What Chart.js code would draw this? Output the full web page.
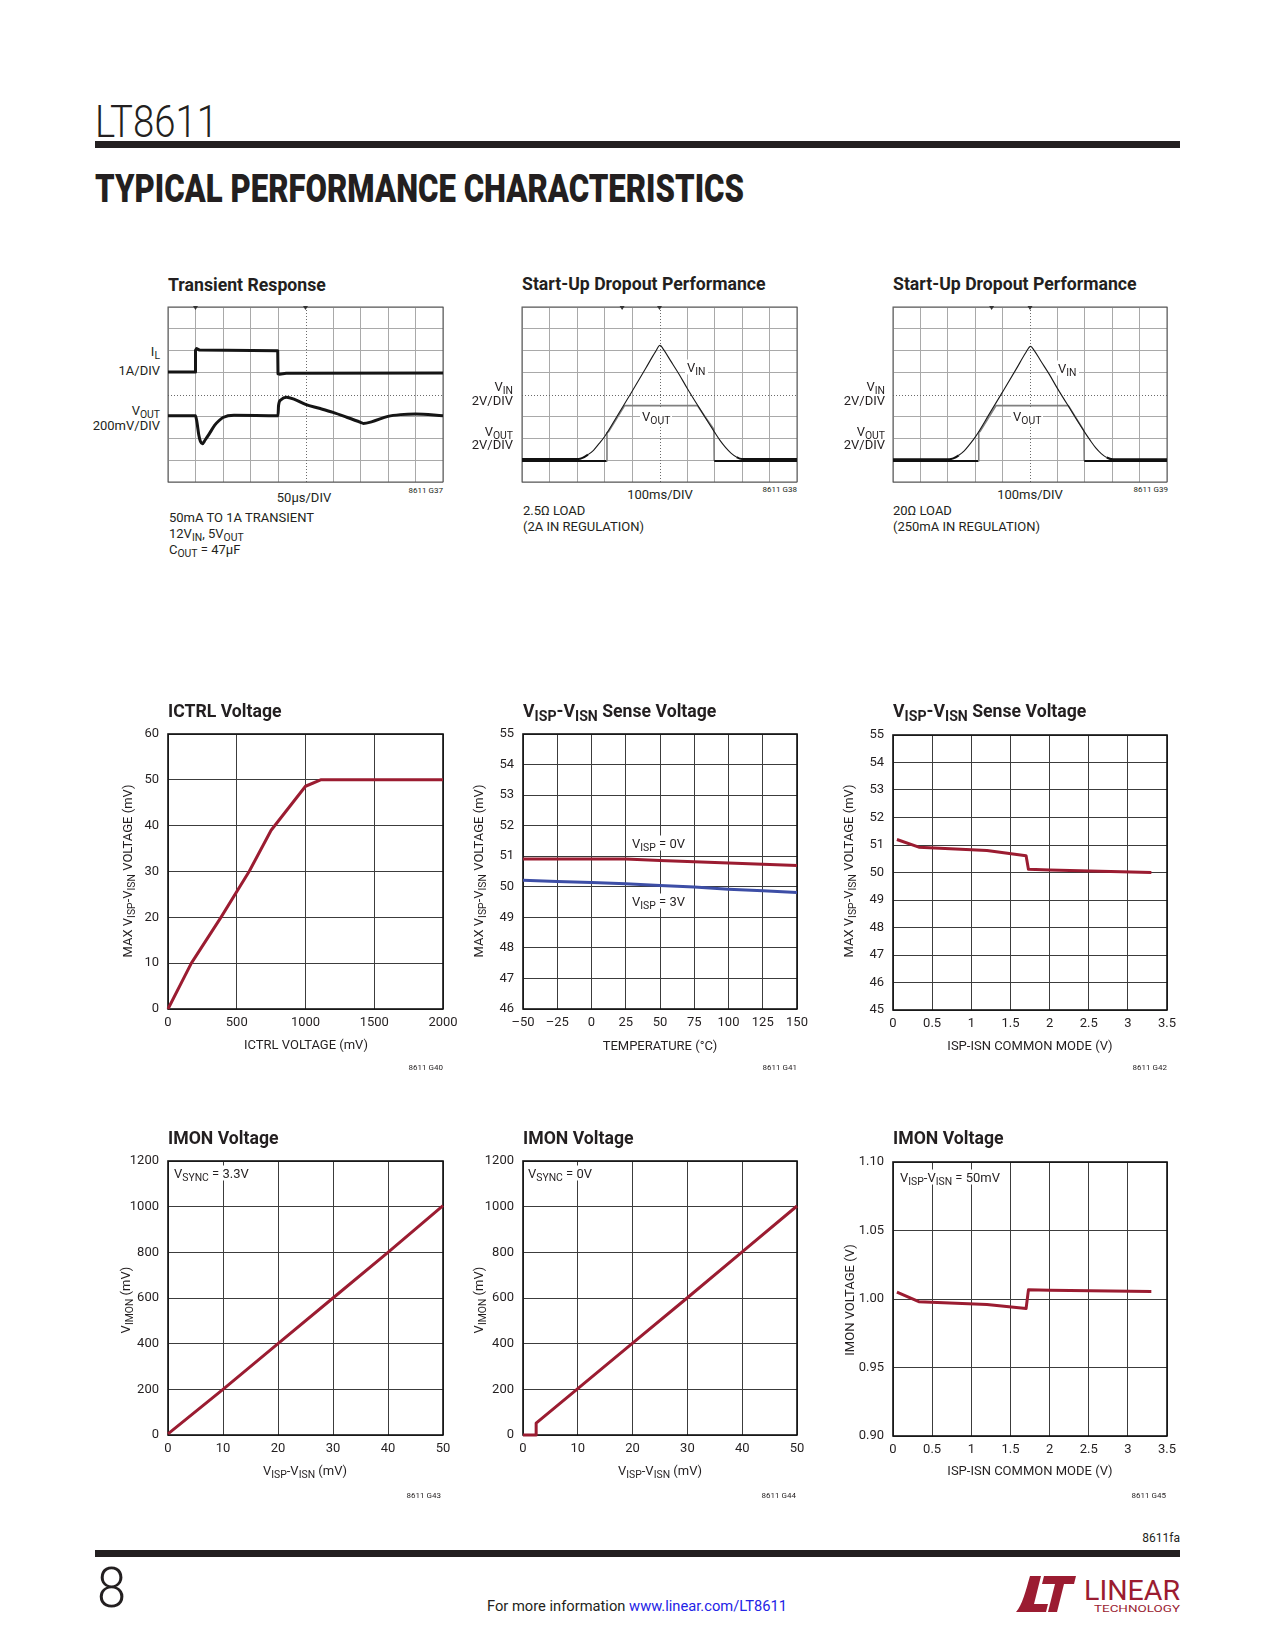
<!DOCTYPE html>
<html><head><meta charset="utf-8">
<script src="https://cdn.jsdelivr.net/npm/chart.js@4.4.1/dist/chart.umd.min.js"></script>
<style>
html,body{margin:0;padding:0;background:#fff;}
#page{position:relative;width:1275px;height:1650px;overflow:hidden;font-family:Roboto,'Liberation Sans',sans-serif;color:#231f20;}
.t{position:absolute;white-space:nowrap;line-height:1;}
canvas{position:absolute;}
sub{font-size:80%;vertical-align:-0.3em;line-height:0;}
</style></head>
<body>
<div id="page">
<svg width="1275" height="1650" style="position:absolute;left:0;top:0" font-family="Roboto" fill="#231f20">
 <text x="95" y="137" font-weight="300" font-size="45" textLength="123" lengthAdjust="spacingAndGlyphs">LT8611</text>
 <rect x="95" y="141" width="1085" height="7"/>
 <text x="95" y="202" font-weight="900" font-size="38" textLength="649" lengthAdjust="spacingAndGlyphs">TYPICAL PERFORMANCE CHARACTERISTICS</text>
 <text x="1180" y="1542" text-anchor="end" font-size="12">8611fa</text>
 <rect x="95" y="1550" width="1085" height="7"/>
 <text x="97" y="1607" font-weight="300" font-size="56" textLength="29" lengthAdjust="spacingAndGlyphs">8</text>
 <text x="637" y="1611" text-anchor="middle" font-size="15" textLength="300" lengthAdjust="spacingAndGlyphs">For more information <tspan fill="#2323e6">www.linear.com/LT8611</tspan></text>
 <g transform="translate(1016,1576)" fill="#9b1c31">
  <path d="M14 0 H25 L18 28 H32 L30 36 H0 C6 30 10 14 14 0 Z"/>
  <path d="M28 0 H60 L58 8 H48 L41 36 H32 L39 8 H26 Z"/>
 </g>
 <text x="1084" y="1600" font-size="27" font-weight="400" textLength="96" lengthAdjust="spacingAndGlyphs" fill="#9b1c31">LINEAR</text>
 <text x="1094" y="1612" font-size="9" textLength="86" lengthAdjust="spacingAndGlyphs" fill="#9b1c31">TECHNOLOGY</text>
</svg>
</div>
<script>
// ================= DATA =================
// Transient Response (scope divisions: 10 across, 8 up)
const trIlT = [0, 0.99, 1.0, 1.04, 1.15, 3.99, 4.0, 4.05, 4.3, 10];
const trIlV = [5.03, 5.03, 6.02, 6.1, 6.03, 6.0, 4.95, 4.93, 4.97, 4.98];
const trVoT = [0, 1.0, 1.05, 1.12, 1.18, 1.25, 1.35, 1.5, 1.7, 1.85, 2.0, 2.4, 4.0, 4.02, 4.1, 4.31, 4.6, 5.0, 5.5, 6.0, 6.5, 7.0, 7.1, 7.4, 8.0, 8.45, 9.0, 10];
const trVoV = [3.03, 3.03, 2.75, 2.15, 1.85, 1.75, 1.92, 2.2, 2.6, 2.8, 2.95, 3.05, 3.03, 3.5, 3.75, 3.88, 3.78, 3.55, 3.37, 3.18, 2.96, 2.73, 2.68, 2.75, 3.0, 3.08, 3.11, 3.03];
// Start-Up Dropout, 2.5 ohm load
const su1VinT = [0, 2.05, 2.2, 2.4, 2.6, 2.8, 3.0, 3.5, 4.0, 4.5, 4.85, 5.02, 5.15, 5.4, 5.7, 6.0, 6.5, 7.0, 7.2, 7.4, 7.6, 7.8, 8.0, 10];
const su1VinV = [1.05, 1.05, 1.1, 1.25, 1.45, 1.75, 2.07, 3.1, 4.14, 5.2, 5.95, 6.25, 6.05, 5.55, 4.95, 4.3, 3.28, 2.28, 1.9, 1.58, 1.32, 1.14, 1.05, 1.05];
const su1VoT = [0, 3.08, 3.09, 3.15, 3.73, 6.38, 6.7, 6.98, 6.99, 10];
const su1VoV = [0.96, 0.96, 2.25, 2.3, 3.49, 3.49, 2.9, 2.4, 0.96, 0.96];
// Start-Up Dropout, 20 ohm load
const su2VinT = [0, 2.05, 2.2, 2.4, 2.6, 2.8, 3.0, 3.5, 4.0, 4.5, 4.85, 5.02, 5.15, 5.4, 5.7, 6.0, 6.5, 7.0, 7.2, 7.4, 7.6, 7.8, 8.03, 10];
const su2VinV = [1.04, 1.04, 1.08, 1.22, 1.42, 1.72, 2.05, 3.08, 4.12, 5.17, 5.92, 6.2, 6.02, 5.52, 4.93, 4.28, 3.27, 2.27, 1.9, 1.56, 1.3, 1.12, 1.04, 1.04];
const su2VoT = [0, 3.12, 3.13, 3.18, 3.76, 6.4, 6.7, 6.97, 6.98, 10];
const su2VoV = [0.96, 0.96, 2.27, 2.32, 3.49, 3.49, 2.88, 2.35, 0.96, 0.96];
// ICTRL Voltage
const ictrlMv = [0, 170, 385, 590, 750, 1000, 1110, 2000];
const ictrlSense = [0, 10, 20, 30, 39, 48.6, 50, 50];
// Sense voltage vs temperature
const tempC = [-50, -25, 0, 25, 50, 75, 100, 125, 150];
const senseVisp0 = [50.91, 50.91, 50.91, 50.91, 50.86, 50.82, 50.78, 50.74, 50.70];
const senseVisp3 = [50.21, 50.17, 50.14, 50.10, 50.04, 49.99, 49.92, 49.87, 49.81];
// Sense voltage vs common mode
const cmSenseV = [0.05, 0.33, 1.2, 1.7, 1.73, 2.0, 3.3];
const senseCm = [51.2, 50.92, 50.8, 50.61, 50.12, 50.09, 50.0];
// IMON vs sense voltage
const imonSense1 = [0, 10, 20, 30, 40, 50];
const imonSync33 = [5, 200, 400, 600, 800, 1005];
const imonSense2 = [0, 2.4, 2.4, 10, 20, 30, 40, 50];
const imonSync0 = [0, 0, 52, 203, 402, 601, 802, 1003];
// IMON vs common mode
const cmImonV = [0.05, 0.33, 1.2, 1.7, 1.73, 2.0, 3.3];
const imonCm = [1.005, 0.998, 0.996, 0.993, 1.0067, 1.0064, 1.0055];

// ================= RENDER =================
const RED = '#9b1c31', BLUE = '#3d4ea6', INK = '#231f20';
Chart.defaults.font.family = 'Roboto';
const page = document.getElementById('page');

function lab(html, x, y, o = {}) {
  const d = document.createElement('div');
  d.className = 't';
  d.innerHTML = html;
  d.style.left = x + 'px';
  d.style.top = y + 'px';
  d.style.fontSize = (o.size || 13) + 'px';
  if (o.bold) d.style.fontWeight = '700';
  if (o.bg) { d.style.background = '#fff'; d.style.padding = '1px 2px'; }
  const a = o.align || 'l';
  const tx = a === 'r' ? '-100%' : a === 'c' ? '-50%' : '0';
  let tr = `translate(${tx},-50%)`;
  if (o.sx) {
    tr += ` scaleX(${o.sx})`;
    d.style.transformOrigin = a === 'r' ? '100% 50%' : a === 'c' ? '50% 50%' : '0 50%';
  }
  if (o.rot) tr = 'translate(-50%,-50%) rotate(-90deg)';
  d.style.transform = tr;
  page.appendChild(d);
}

function mkCanvas(area, L, T, R, B) {
  const c = document.createElement('canvas');
  c.width = area.w + L + R; c.height = area.h + T + B;
  c.style.left = (area.x - L) + 'px'; c.style.top = (area.y - T) + 'px';
  c.style.width = c.width + 'px'; c.style.height = c.height + 'px';
  page.appendChild(c);
  return c;
}

function pts(xs, ys) { return xs.map((x, i) => ({x, y: ys[i]})); }
function lineDs(xs, ys, color, width, extra) {
  return Object.assign({data: pts(xs, ys), borderColor: color, borderWidth: width, pointRadius: 0,
    showLine: true, fill: false, tension: 0, clip: false, borderJoinStyle: 'round'}, extra || {});
}

const frame = {
  id: 'frame',
  beforeDatasetsDraw(chart, a, o) {
    const {left, top, right, bottom} = chart.chartArea;
    const ctx = chart.ctx;
    ctx.save();
    if (o.scope) {
      const xs = chart.scales.x, ys = chart.scales.y;
      const cx = Math.round(xs.getPixelForValue(5)) + 0.5, cy = Math.round(ys.getPixelForValue(4)) + 0.5;
      ctx.strokeStyle = '#6a6a6a'; ctx.lineWidth = 1; ctx.setLineDash([1, 2]);
      ctx.beginPath(); ctx.moveTo(cx, top); ctx.lineTo(cx, bottom); ctx.moveTo(left, cy); ctx.lineTo(right, cy); ctx.stroke();
      ctx.setLineDash([]);
    }
    ctx.strokeStyle = o.color || '#111'; ctx.lineWidth = o.width || 1.5;
    ctx.strokeRect(left, top, right - left, bottom - top);
    ctx.restore();
  },
  afterDraw(chart, a, o) {
    if (!o.marks) return;
    const ctx = chart.ctx, top = chart.chartArea.top;
    ctx.save(); ctx.fillStyle = '#333';
    for (const m of o.marks) {
      const px = chart.scales.x.getPixelForValue(m);
      ctx.beginPath(); ctx.moveTo(px - 2.5, top - 1); ctx.lineTo(px + 2.5, top - 1); ctx.lineTo(px, top + 3); ctx.closePath(); ctx.fill();
    }
    ctx.restore();
  }
};

function axis(s, which, size) {
  return {
    type: 'linear', min: s.min, max: s.max,
    ticks: {stepSize: s.step, color: INK, font: {family: 'Roboto', size: 13}, padding: which === 'x' ? 6 : 9,
      maxRotation: 0, autoSkip: false, includeBounds: true, callback: s.fmt || (v => v)},
    grid: {color: '#3c3c3c', lineWidth: 1, drawTicks: false},
    border: {display: false},
    afterFit: sc => { if (which === 'x') sc.height = size; else sc.width = size; }
  };
}

function xyChart(area, datasets, sx, sy) {
  const L = 70, T = 24, R = 30, B = 30;
  const cv = mkCanvas(area, L, T, R, B);
  return new Chart(cv, {
    type: 'scatter',
    data: {datasets},
    options: {
      responsive: false, animation: false, events: [],
      layout: {padding: {left: 0, top: T, right: R, bottom: 0}},
      plugins: {legend: {display: false}, tooltip: {enabled: false}, frame: {color: '#111', width: 1.6}},
      scales: {x: axis(sx, 'x', B), y: axis(sy, 'y', L)}
    },
    plugins: [frame]
  });
}

function scopeChart(area, datasets, marks) {
  const L = 3, T = 5, R = 4, B = 3;
  const cv = mkCanvas(area, L, T, R, B);
  const g = (center) => ({color: c => (c.tick && c.tick.value === center) ? 'rgba(0,0,0,0)' : '#a9a9a9', lineWidth: 1, drawTicks: false});
  return new Chart(cv, {
    type: 'scatter',
    data: {datasets},
    options: {
      responsive: false, animation: false, events: [],
      layout: {padding: {left: 0, top: T, right: R, bottom: 0}},
      plugins: {legend: {display: false}, tooltip: {enabled: false}, frame: {scope: true, color: '#555', width: 1, marks}},
      scales: {
        x: {type: 'linear', min: 0, max: 10, ticks: {display: false, stepSize: 1}, grid: g(5), border: {display: false}, afterFit: sc => { sc.height = B; }},
        y: {type: 'linear', min: 0, max: 8, ticks: {display: false, stepSize: 1}, grid: g(4), border: {display: false}, afterFit: sc => { sc.width = L; }}
      }
    },
    plugins: [frame]
  });
}

const baseSeg = (thin, thick) => ({
  borderColor: c => (c.p0.parsed.y < 1.3 && c.p1.parsed.y < 1.3) ? '#111' : undefined,
  borderWidth: c => (c.p0.parsed.y < 1.3 && c.p1.parsed.y < 1.3) ? thick : thin
});

// ---- Row 1: scope captures ----
scopeChart({x: 168, y: 307, w: 275, h: 175}, [
  lineDs(trIlT, trIlV, '#151515', 3),
  lineDs(trVoT, trVoV, '#151515', 3, {cubicInterpolationMode: 'monotone'})
], [1, 5]);
scopeChart({x: 522, y: 307, w: 275, h: 175}, [
  lineDs(su1VinT, su1VinV, '#1a1a1a', 1.1, {cubicInterpolationMode: 'monotone', segment: baseSeg(1.1, 2)}),
  lineDs(su1VoT, su1VoV, '#808080', 2, {segment: baseSeg(1.6, 2.2)})
], [3.64, 5]);
scopeChart({x: 893, y: 307, w: 274, h: 175}, [
  lineDs(su2VinT, su2VinV, '#1a1a1a', 1.1, {cubicInterpolationMode: 'monotone', segment: baseSeg(1.1, 2)}),
  lineDs(su2VoT, su2VoV, '#808080', 2, {segment: baseSeg(1.6, 2.2)})
], [3.6, 5]);

// ---- Row 2 ----
xyChart({x: 168, y: 734, w: 275, h: 275}, [lineDs(ictrlMv, ictrlSense, RED, 3)],
  {min: 0, max: 2000, step: 500}, {min: 0, max: 60, step: 10});
xyChart({x: 523, y: 734, w: 274, h: 275}, [
  lineDs(tempC, senseVisp0, RED, 3),
  lineDs(tempC, senseVisp3, BLUE, 3)],
  {min: -50, max: 150, step: 25, fmt: v => v < 0 ? '\u2013' + Math.abs(v) : v}, {min: 46, max: 55, step: 1});
xyChart({x: 893, y: 735, w: 274, h: 275}, [lineDs(cmSenseV, senseCm, RED, 3)],
  {min: 0, max: 3.5, step: 0.5}, {min: 45, max: 55, step: 1});

// ---- Row 3 ----
xyChart({x: 168, y: 1161, w: 275, h: 274}, [lineDs(imonSense1, imonSync33, RED, 3)],
  {min: 0, max: 50, step: 10}, {min: 0, max: 1200, step: 200});
xyChart({x: 523, y: 1161, w: 274, h: 274}, [lineDs(imonSense2, imonSync0, RED, 3)],
  {min: 0, max: 50, step: 10}, {min: 0, max: 1200, step: 200});
xyChart({x: 893, y: 1162, w: 274, h: 274}, [lineDs(cmImonV, imonCm, RED, 3)],
  {min: 0, max: 3.5, step: 0.5}, {min: 0.9, max: 1.1, step: 0.05, fmt: v => v.toFixed(2)});

// ---- Text ----
const TS = {size: 19, bold: true, sx: 0.93};
lab('Transient Response', 168, 284, TS);
lab('Start-Up Dropout Performance', 522, 283, TS);
lab('Start-Up Dropout Performance', 893, 283, TS);
lab('ICTRL Voltage', 168, 710, TS);
lab('V<sub>ISP</sub>-V<sub>ISN</sub> Sense Voltage', 523, 710, TS);
lab('V<sub>ISP</sub>-V<sub>ISN</sub> Sense Voltage', 893, 710, TS);
lab('IMON Voltage', 168, 1137, TS);
lab('IMON Voltage', 523, 1137, TS);
lab('IMON Voltage', 893, 1137, TS);

// scope 1
lab('I<sub>L</sub>', 160, 351, {align: 'r'});
lab('1A/DIV', 160, 370, {align: 'r'});
lab('V<sub>OUT</sub>', 160, 410, {align: 'r'});
lab('200mV/DIV', 160, 425, {align: 'r'});
lab('50\u00b5s/DIV', 304, 497, {align: 'c'});
lab('8611 G37', 443, 491, {align: 'r', size: 8});
lab('50mA TO 1A TRANSIENT', 169, 517);
lab('12V<sub>IN</sub>, 5V<sub>OUT</sub>', 169, 533);
lab('C<sub>OUT</sub> = 47\u00b5F', 169, 549);
// scope 2
lab('V<sub>IN</sub>', 685, 367, {bg: true});
lab('V<sub>OUT</sub>', 640, 416, {bg: true});
lab('V<sub>IN</sub>', 513, 386, {align: 'r'});
lab('2V/DIV', 513, 400, {align: 'r'});
lab('V<sub>OUT</sub>', 513, 431, {align: 'r'});
lab('2V/DIV', 513, 444, {align: 'r'});
lab('100ms/DIV', 660, 494, {align: 'c'});
lab('8611 G38', 797, 490, {align: 'r', size: 8});
lab('2.5\u03a9 LOAD', 523, 510);
lab('(2A IN REGULATION)', 523, 526);
// scope 3
lab('V<sub>IN</sub>', 1056, 368, {bg: true});
lab('V<sub>OUT</sub>', 1011, 416, {bg: true});
lab('V<sub>IN</sub>', 885, 386, {align: 'r'});
lab('2V/DIV', 885, 400, {align: 'r'});
lab('V<sub>OUT</sub>', 885, 431, {align: 'r'});
lab('2V/DIV', 885, 444, {align: 'r'});
lab('100ms/DIV', 1030, 494, {align: 'c'});
lab('8611 G39', 1168, 490, {align: 'r', size: 8});
lab('20\u03a9 LOAD', 893, 510);
lab('(250mA IN REGULATION)', 893, 526);

// row 2 axis titles
lab('MAX V<sub>ISP</sub>-V<sub>ISN</sub> VOLTAGE (mV)', 127, 871, {rot: true});
lab('ICTRL VOLTAGE (mV)', 306, 1044, {align: 'c'});
lab('8611 G40', 443, 1068, {align: 'r', size: 8});
lab('MAX V<sub>ISP</sub>-V<sub>ISN</sub> VOLTAGE (mV)', 478, 871, {rot: true});
lab('TEMPERATURE (\u00b0C)', 660, 1045, {align: 'c'});
lab('8611 G41', 797, 1068, {align: 'r', size: 8});
lab('V<sub>ISP</sub> = 0V', 630, 843, {bg: true});
lab('V<sub>ISP</sub> = 3V', 630, 901, {bg: true});
lab('MAX V<sub>ISP</sub>-V<sub>ISN</sub> VOLTAGE (mV)', 848, 871, {rot: true});
lab('ISP-ISN COMMON MODE (V)', 1030, 1045, {align: 'c'});
lab('8611 G42', 1167, 1068, {align: 'r', size: 8});

// row 3 axis titles
lab('V<sub>IMON</sub> (mV)', 125, 1300, {rot: true});
lab('V<sub>ISP</sub>-V<sub>ISN</sub> (mV)', 305, 1470, {align: 'c'});
lab('8611 G43', 441, 1496, {align: 'r', size: 8});
lab('V<sub>SYNC</sub> = 3.3V', 172, 1173, {bg: true});
lab('V<sub>IMON</sub> (mV)', 478, 1300, {rot: true});
lab('V<sub>ISP</sub>-V<sub>ISN</sub> (mV)', 660, 1470, {align: 'c'});
lab('8611 G44', 796, 1496, {align: 'r', size: 8});
lab('V<sub>SYNC</sub> = 0V', 526, 1173, {bg: true});
lab('IMON VOLTAGE (V)', 849, 1300, {rot: true});
lab('ISP-ISN COMMON MODE (V)', 1030, 1470, {align: 'c'});
lab('8611 G45', 1166, 1496, {align: 'r', size: 8});
lab('V<sub>ISP</sub>-V<sub>ISN</sub> = 50mV', 898, 1177, {bg: true});
</script>
</body></html>
